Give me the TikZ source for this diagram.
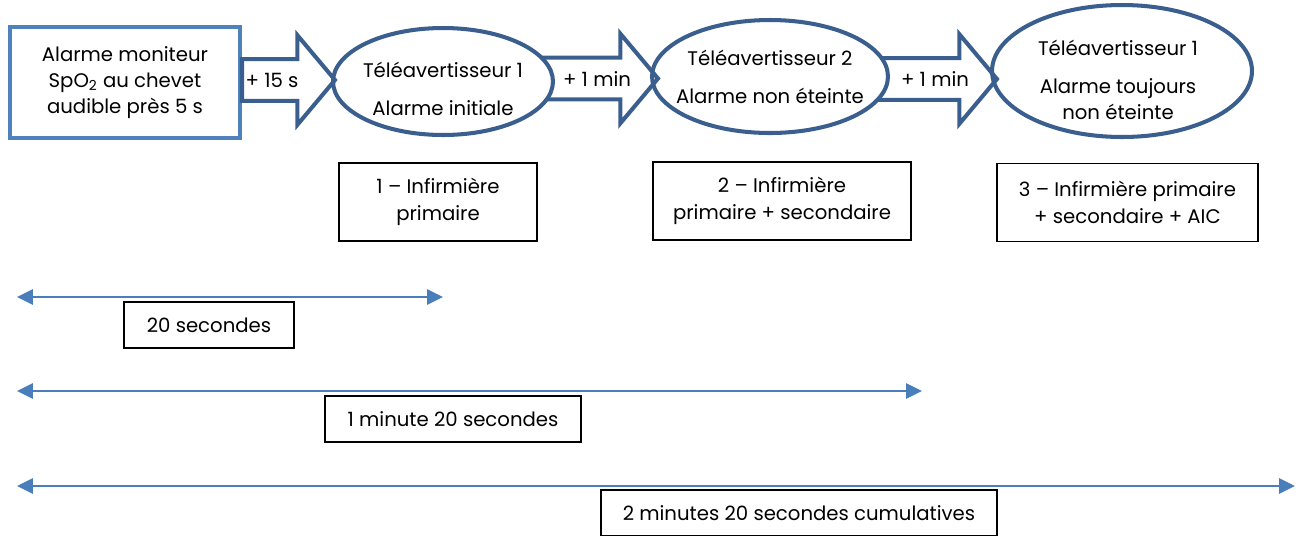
\documentclass[tikz,border=0pt]{standalone}
\usepackage{fontspec}
\setmainfont{Poppins}
\usepackage{tikz}
\usetikzlibrary{shapes.geometric, shapes.arrows, arrows.meta, positioning}
\definecolor{boxblue}{HTML}{4F81BD}
\definecolor{darkblue}{HTML}{3A5F8F}
\definecolor{lineblue}{HTML}{4A7EBB}
\pgfdeclarelayer{bottom}
\pgfdeclarelayer{middle}
\pgfdeclarelayer{upper}
\pgfsetlayers{bottom,middle,upper,main}

\begin{document}
\begin{tikzpicture}[x=0.02cm, y=-0.02cm,
  font=\fontsize{11.2}{15}\selectfont,
  startbox/.style={draw=boxblue, line width=2.3pt, minimum width=4.6cm, minimum height=2.22cm, align=center, inner sep=0pt},
  tele/.style={draw=darkblue, fill=white, line width=2.3pt, ellipse, inner sep=0pt, outer sep=0pt},
  blockarrow/.style={draw=darkblue, line width=2.3pt, single arrow, single arrow tip angle=100,
    single arrow head extend=0.48cm, text height=7.5pt, text depth=2pt, inner ysep=6pt, inner xsep=0pt,
    outer sep=0pt, anchor=tail},
  nurse/.style={draw=black, line width=1pt, minimum height=1.56cm, align=center},
  span/.style={draw=lineblue, line width=1.5pt, {Triangle[length=9pt, width=8.5pt]}-{Triangle[length=9pt, width=8.5pt]}},
  spanlabel/.style={draw=black, line width=1pt, minimum height=0.92cm}
]
  \useasboundingbox (0,0) rectangle (1299,535);
  % ---------------- escalation chain ----------------
  \node[startbox] (moniteur) at (125,82.5) {Alarme moniteur\\SpO\textsubscript{2} au chevet\\audible près 5 s};
  \node[tele, minimum width=4.4cm, minimum height=2.14cm] (tele1) at (443,81.5) {};
  \begin{pgfonlayer}{middle}
    \node[tele, minimum width=4.72cm, minimum height=2.26cm] (tele2) at (770,76.5) {};
  \end{pgfonlayer}
  \node[tele, fill=none, minimum width=5.2cm, minimum height=2.64cm] (tele3) at (1122,71) {};
  % block arrows (tails hidden under the ellipse they leave)
  \begin{pgfonlayer}{bottom}
    \node[blockarrow, minimum height=2.38cm] (delai3) at ([xshift=-0.2cm, yshift=-0.05cm]tele2.east) {};
  \end{pgfonlayer}
  \begin{pgfonlayer}{upper}
    \node[blockarrow, minimum height=2.3cm] (delai2) at ([xshift=-0.2cm, yshift=0.06cm]tele1.east) {};
  \end{pgfonlayer}
  \node[blockarrow, minimum height=1.86cm] (delai1) at ([yshift=0.05cm]moniteur.east) {};
  \node (delai1txt) at (272,80) {+ 15 s};
  \node (delai2txt) at (597,79) {+ 1 min};
  \node (delai3txt) at (935,79) {+ 1 min};
  \node[align=center] (tele1txt) at (443,89) {Téléavertisseur 1\\[6.5pt]Alarme initiale};
  \node[align=center] (tele2txt) at (770,77) {Téléavertisseur 2\\[6.5pt]Alarme non éteinte};
  \node[align=center] (tele3txt) at (1118,80) {Téléavertisseur 1\\[6.5pt]Alarme toujours\\non éteinte};
  % ---------------- who is paged ----------------
  \node[nurse, minimum width=3.96cm] (inf1) at (438,202) {1 – Infirmière\\primaire};
  \node[nurse, minimum width=5.16cm] (inf2) at (782,201) {2 – Infirmière\\primaire + secondaire};
  \node[nurse, minimum width=5.22cm] (inf3) at (1127.5,202.5) {3 – Infirmière primaire\\+ secondaire + AIC};
  % ---------------- time spans ----------------
  \coordinate (s1a) at (17,297);
  \coordinate (s1b) at (443,297);
  \coordinate (s2a) at (17,391);
  \coordinate (s2b) at (922,391);
  \coordinate (s3a) at (17,486);
  \coordinate (s3b) at (1295,486);
  \draw[span] (s1a) -- (s1b);
  \draw[span] (s2a) -- (s2b);
  \draw[span] (s3a) -- (s3b);
  \node[spanlabel, minimum width=3.4cm] (duree1) at (209,325) {20 secondes};
  \node[spanlabel, minimum width=5.12cm] (duree2) at (453,419) {1 minute 20 secondes};
  \node[spanlabel, minimum width=7.92cm] (duree3) at (799,513) {2 minutes 20 secondes cumulatives};
\end{tikzpicture}
\end{document}
